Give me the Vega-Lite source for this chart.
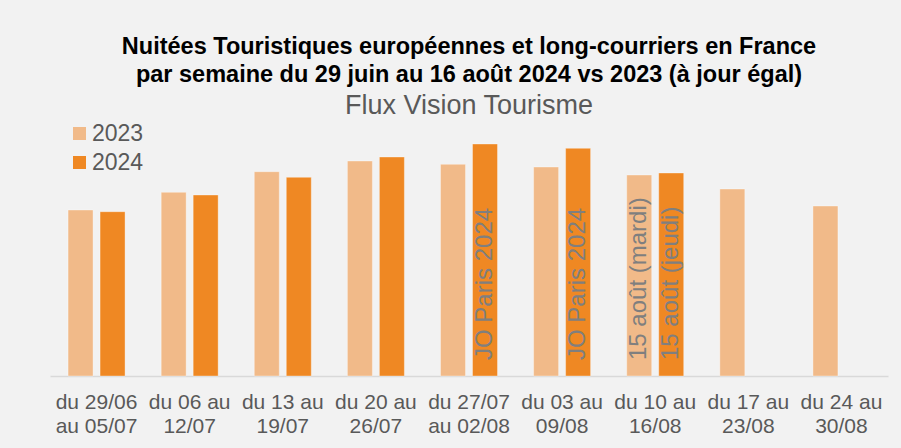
{
  "$schema": "https://vega.github.io/schema/vega-lite/v6.json",
  "width": 838,
  "height": 240,
  "autosize": {"type": "none"},
  "padding": {"left": 50, "top": 136, "right": 13, "bottom": 72},
  "background": "#F2F2F2",
  "config": {"view": {"stroke": null}, "font": "Liberation Sans"},
  "title": {
    "text": ["Nuitées Touristiques européennes et long-courriers en France", "par semaine du 29 juin au 16 août 2024 vs 2023 (à jour égal)"],
    "subtitle": "Flux Vision Tourisme",
    "font": "Liberation Sans",
    "fontSize": 23.5,
    "fontWeight": "bold",
    "color": "#000000",
    "lineHeight": 28,
    "subtitleFont": "Liberation Sans",
    "subtitleFontSize": 27,
    "subtitleColor": "#595959",
    "subtitlePadding": 7,
    "anchor": "middle",
    "frame": "group",
    "offset": 3
  },
  "data": {
    "values": [
      {"semaine": "du 29/06|au 05/07", "annee": "2023", "nuitees": 166, "note": null},
      {"semaine": "du 29/06|au 05/07", "annee": "2024", "nuitees": 164.3, "note": null},
      {"semaine": "du 06 au|12/07", "annee": "2023", "nuitees": 183.7, "note": null},
      {"semaine": "du 06 au|12/07", "annee": "2024", "nuitees": 181, "note": null},
      {"semaine": "du 13 au|19/07", "annee": "2023", "nuitees": 204.3, "note": null},
      {"semaine": "du 13 au|19/07", "annee": "2024", "nuitees": 198.7, "note": null},
      {"semaine": "du 20 au|26/07", "annee": "2023", "nuitees": 215, "note": null},
      {"semaine": "du 20 au|26/07", "annee": "2024", "nuitees": 219, "note": null},
      {"semaine": "du 27/07|au 02/08", "annee": "2023", "nuitees": 211.7, "note": null},
      {"semaine": "du 27/07|au 02/08", "annee": "2024", "nuitees": 232, "note": "JO Paris 2024"},
      {"semaine": "du 03 au|09/08", "annee": "2023", "nuitees": 209, "note": null},
      {"semaine": "du 03 au|09/08", "annee": "2024", "nuitees": 227.7, "note": "JO Paris 2024"},
      {"semaine": "du 10 au|16/08", "annee": "2023", "nuitees": 201, "note": "15 août (mardi)"},
      {"semaine": "du 10 au|16/08", "annee": "2024", "nuitees": 203, "note": "15 août (jeudi)"},
      {"semaine": "du 17 au|23/08", "annee": "2023", "nuitees": 187, "note": null},
      {"semaine": "du 24 au|30/08", "annee": "2023", "nuitees": 170, "note": null}
    ]
  },
  "encoding": {
    "x": {
      "field": "semaine",
      "type": "nominal",
      "sort": null,
      "scale": {"paddingInner": 0.388, "paddingOuter": 0.194},
      "axis": {
        "title": null,
        "labelExpr": "split(datum.value, '|')",
        "labelFontSize": 21,
        "labelColor": "#595959",
        "labelLineHeight": 24,
        "labelPadding": 15,
        "labelAngle": 0,
        "ticks": false,
        "grid": false,
        "domainColor": "#D9D9D9",
        "domainWidth": 1.5
      }
    },
    "xOffset": {
      "field": "annee",
      "type": "nominal",
      "scale": {"domain": ["2023", "2024"], "paddingInner": 0.219, "paddingOuter": 0}
    },
    "y": {
      "field": "nuitees",
      "type": "quantitative",
      "scale": {"domain": [0, 240]},
      "axis": null
    }
  },
  "layer": [
    {
      "mark": {"type": "bar", "stroke": "#FFFFFF", "strokeOpacity": 0.35, "strokeWidth": 1},
      "encoding": {
        "color": {
          "field": "annee",
          "type": "nominal",
          "scale": {"domain": ["2023", "2024"], "range": ["#F1BA89", "#EF8823"]},
          "legend": {
            "orient": "none",
            "legendX": 18,
            "legendY": -14,
            "title": null,
            "symbolType": "square",
            "symbolSize": 169,
            "symbolStrokeWidth": 0,
            "labelFontSize": 23,
            "labelColor": "#595959",
            "labelOffset": 1,
            "rowPadding": 5
          }
        }
      }
    },
    {
      "transform": [{"filter": "datum.note != null"}],
      "mark": {"type": "text", "angle": 270, "align": "left", "baseline": "middle", "dx": 16, "fontSize": 24, "color": "#7F7F7F"},
      "encoding": {
        "y": {"datum": 0, "type": "quantitative"},
        "text": {"field": "note"}
      }
    }
  ]
}
